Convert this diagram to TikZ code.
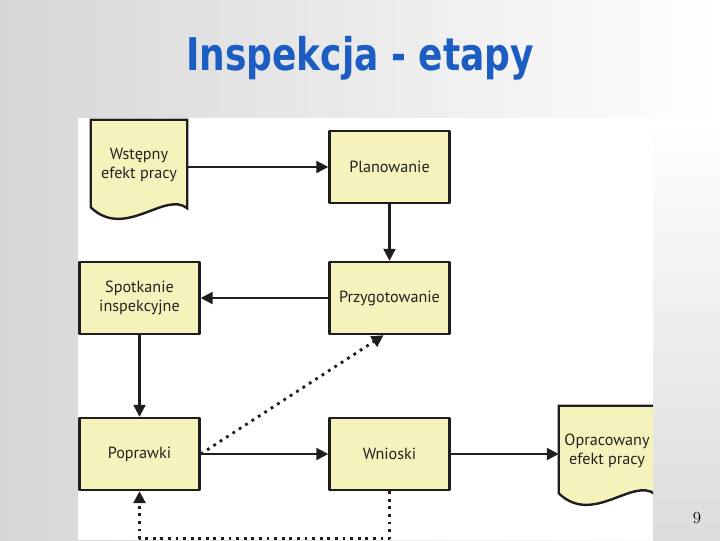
\documentclass[tikz,border=0pt]{standalone}
\usepackage{fontspec}
\usetikzlibrary{arrows.meta,calc,backgrounds}
\newfontfamily\inspBoxFont{PT Sans}
\newfontfamily\inspTitleFont[FakeStretch=0.8]{DejaVu Sans}
\definecolor{inspBlue}{HTML}{1C5DC4}
\definecolor{inspFill}{HTML}{F6F2BC}
\definecolor{inspLine}{HTML}{1E1E1E}
\definecolor{inspText}{HTML}{222222}
\definecolor{inspGray}{HTML}{D6D6D6}
% document symbol: straight top and sides, wavy bottom
\newcommand{\inspDoc}[1]{%
  \draw[docline] (#1.north west) -- (#1.north east) -- ($(#1.south east)+(0,-2)$)
    .. controls ($(#1.south)+(26,-20)$) and ($(#1.south)+(-14,30)$) .. ($(#1.south west)+(0,-3)$)
    -- cycle;}

\begin{document}
\begin{tikzpicture}[x=0.025cm, y=-0.025cm, line join=round,
  stagebox/.style={draw=inspLine, fill=inspFill, line width=1.7pt,
    minimum width=3cm, minimum height=1.8cm, inner sep=2pt, align=center,
    font=\inspBoxFont\fontsize{11.5}{13.5}\selectfont, text=inspText},
  docnode/.style={minimum width=2.4cm, minimum height=2.25cm, inner sep=0pt, align=center,
    font=\inspBoxFont\fontsize{11.5}{13.5}\selectfont, text=inspText},
  docline/.style={draw=inspLine, fill=inspFill, line width=1.7pt},
  flow/.style={draw=inspLine, line width=1.6pt, -{Triangle[length=8.5pt,width=8.5pt]}},
  loopflow/.style={flow, line width=2pt, dash pattern=on 2pt off 3.4pt}]
  \useasboundingbox (0,0) rectangle (720,540);

  % title and slide number
  \node[font=\inspTitleFont\bfseries\fontsize{32}{36}\selectfont, text=inspBlue] (title) at (360,58) {Inspekcja - etapy};
  \node[font=\fontsize{12}{14}\selectfont] (pagenum) at (697,518) {9};

  % stages
  \node[docnode] (wst) at (139,165) {Wstępny\\efekt pracy};
  \node[stagebox] (plan) at (389.5,167) {Planowanie};
  \node[stagebox] (przyg) at (389.5,298) {Przygotowanie};
  \node[stagebox] (spot) at (139.5,298) {Spotkanie\\inspekcyjne};
  \node[stagebox] (popr) at (139.5,454) {Poprawki};
  \node[stagebox] (wnio) at (389.5,454) {Wnioski};
  \node[docnode] (opr) at (607,451) {Opracowany\\efekt pracy};

  % flow
  \draw[flow] (wst.east |- plan.west) -- (plan.west);
  \draw[flow] (plan) -- (przyg);
  \draw[flow] (przyg) -- (spot);
  \draw[flow] (spot) -- (popr);
  \draw[flow] (popr) -- (wnio);
  \draw[flow] (wnio.east) -- (wnio.east -| opr.west);
  \draw[loopflow] (popr.east) -- (przyg.-99);
  \draw[loopflow] (wnio.south) -- ++(0,47) -| (popr.south);

  % slide background, picture area and document outlines
  \begin{scope}[on background layer]
    \shade[left color=inspGray, right color=white] (0,0) rectangle (720,540);
    \shade[top color=white, bottom color=inspGray!85] (653,118) rectangle (720,540);
    \fill[white] (78,118) rectangle (653,540);
    \inspDoc{wst}
    \begin{scope}
      \clip (78,118) rectangle (653,540);
      \inspDoc{opr}
    \end{scope}
  \end{scope}
\end{tikzpicture}
\end{document}
